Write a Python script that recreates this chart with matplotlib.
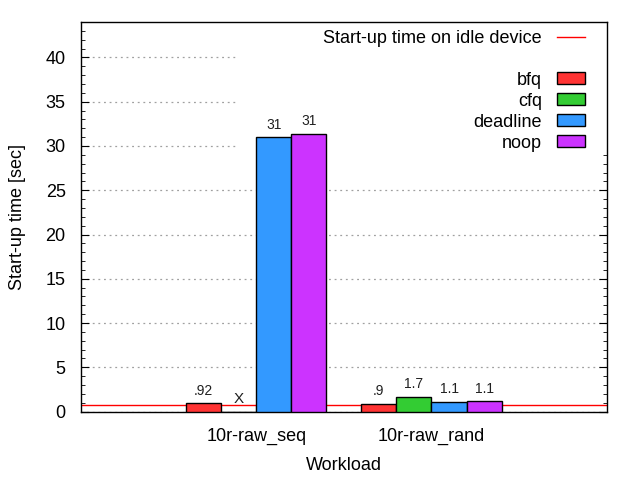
import numpy as np
import matplotlib
matplotlib.use('Agg')
import matplotlib.pyplot as plt
from matplotlib.lines import Line2D
from matplotlib.patches import Patch, Rectangle

plt.rcParams['font.family'] = ['Liberation Sans', 'DejaVu Sans']

# data
workloads = ['10r-raw_seq', '10r-raw_rand']
schedulers = ['bfq', 'cfq', 'deadline', 'noop']
bfq = [0.92, 0.9]
cfq = [np.nan, 1.7]
deadline = [31.0, 1.1]
noop = [31.4, 1.15]
bar_labels = [['.92', '.9'], ['X', '1.7'], ['31', '1.1'], ['31', '1.1']]
idle_time = 0.8
colors = ['#ff3333', '#33cc33', '#3399ff', '#cc33ff']

values = [bfq, cfq, deadline, noop]
x = np.arange(len(workloads))
width = 0.2

fig = plt.figure(figsize=(6.4, 4.8), dpi=100)
ax = fig.add_axes([0.1266, 0.1425, 0.8214, 0.8117])

ax.set_xlim(-1, 2)
ax.set_ylim(0, 44)
ax.set_yticks(np.arange(0, 41, 5))
ax.set_yticks(np.arange(0, 45, 1), minor=True)
ax.set_xticks(x)
ax.set_xticklabels(workloads)

ax.grid(axis='y', which='major', color='#a0a0a0', linestyle=(0, (1.5, 3)), linewidth=0.9, zorder=0)
ax.set_axisbelow(True)

# key box hides the grid behind it, like gnuplot
ax.add_patch(Rectangle((0.2966, 0.66), 0.7034, 0.34, transform=ax.transAxes,
                       facecolor='white', edgecolor='none', zorder=1))

ax.axhline(idle_time, color='#ff0000', linewidth=1, zorder=2)

for i, (name, vals) in enumerate(zip(schedulers, values)):
    pos = x + (i - 1.5) * width
    v = np.array(vals, dtype=float)
    ax.bar(pos, np.nan_to_num(v), width, color=colors[i], edgecolor='black', linewidth=1, zorder=3)
    for j in range(len(workloads)):
        top = 0 if np.isnan(v[j]) else v[j]
        fs = 11 if np.isnan(v[j]) else 10
        ax.annotate(bar_labels[i][j], (pos[j], top), xytext=(0, 4), textcoords='offset points',
                    ha='center', va='bottom', fontsize=fs, color='#202020', zorder=4)

handles = [Line2D([], [], color='#ff0000', linewidth=1),
           Line2D([], [], linestyle='none')]
handles += [Patch(facecolor=c, edgecolor='black', linewidth=1) for c in colors]
labels = ['Start-up time on idle device', ' '] + schedulers
ax.legend(handles, labels, loc='upper right', bbox_to_anchor=(0.975, 1.003), frameon=False,
          markerfirst=False, fontsize=13, handlelength=1.55, handleheight=0.65,
          handletextpad=0.8, labelspacing=0.22, borderpad=0.0)

ax.tick_params(axis='both', which='both', direction='in', labelsize=13)
ax.tick_params(axis='y', which='both', right=True)
ax.tick_params(axis='y', which='major', length=6, pad=11)
ax.tick_params(axis='y', which='minor', length=3)
ax.tick_params(axis='x', which='major', length=6, pad=12)
for s in ax.spines.values():
    s.set_linewidth(1)

ax.set_xlabel('Workload', fontsize=13, labelpad=8)
ax.set_ylabel('Start-up time [sec]', fontsize=13, labelpad=14)

fig.savefig('out.png', dpi=100)
